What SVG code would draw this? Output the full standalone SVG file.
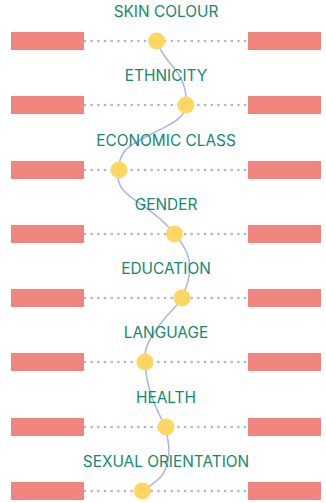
<svg xmlns="http://www.w3.org/2000/svg" width="326" height="503" viewBox="0 0 326 503">
  <style>
    .bar { fill: #f0847f; }
    .dots { stroke: #a4b2e6; stroke-width: 2.6; stroke-linecap: round; stroke-dasharray: 0 6.67; fill: none; }
    .curve { stroke: #a9b5e3; stroke-width: 1.5; fill: none; }
    .dot { fill: #fed660; }
    .label { font-family: Inter, "Liberation Sans", sans-serif; font-size: 15.4px; fill: #15896e; text-anchor: middle; }
  </style>
  <rect width="326" height="503" fill="#ffffff"/>
  <g id="bars">
    <rect class="bar" x="11" y="32" width="73" height="18"/><rect class="bar" x="248" y="32" width="73" height="18"/>
    <rect class="bar" x="11" y="96" width="73" height="18"/><rect class="bar" x="248" y="96" width="73" height="18"/>
    <rect class="bar" x="11" y="161" width="73" height="18"/><rect class="bar" x="248" y="161" width="73" height="18"/>
    <rect class="bar" x="11" y="225" width="73" height="18"/><rect class="bar" x="248" y="225" width="73" height="18"/>
    <rect class="bar" x="11" y="289" width="73" height="18"/><rect class="bar" x="248" y="289" width="73" height="18"/>
    <rect class="bar" x="11" y="353" width="73" height="18"/><rect class="bar" x="248" y="353" width="73" height="18"/>
    <rect class="bar" x="11" y="418" width="73" height="18"/><rect class="bar" x="248" y="418" width="73" height="18"/>
    <rect class="bar" x="11" y="482" width="73" height="18"/><rect class="bar" x="248" y="482" width="73" height="18"/>
  </g>
  <g id="connectors">
    <path class="dots" d="M85,41H248M85,105H248M85,170H248M85,234H248M85,298H248M85,362H248M85,427H248M85,491H248"/>
    <path class="curve" d="M156.7,41 Q160,49.7 164.15,55.5 Q168.3,61.3 173.3,67.15 Q178.3,73 181.15,78.85 Q184,84.7 185,89.7 Q186,94.7 186,99.85 Q186,105 184.65,109.85 Q183.3,114.7 178.3,118.85 Q173.3,123 165,127.15 Q156.7,131.3 148.35,135.5 Q140,139.7 133.35,143.85 Q126.7,148 123.35,153 Q120,158 119.25,163.75 Q118.5,169.5 118,175 Q117.5,180.5 120.4,185.9 Q123.3,191.3 130,196.3 Q136.7,201.3 145,207.15 Q153.3,213 160,218.85 Q166.7,224.7 170.6,229.35 Q174.5,234 178.1,238.5 Q181.7,243 185,248.85 Q188.3,254.7 189.15,261.35 Q190,268 189.15,274.65 Q188.3,281.3 186.65,285.5 Q185,289.7 183.5,293.85 Q182,298 178.5,302.85 Q175,307.7 169.15,313.5 Q163.3,319.3 157.5,327.65 Q151.7,336 148.35,342.65 Q145,349.3 145,355.65 Q145,362 145.5,368.15 Q146,374.3 148,383.5 Q150,392.7 153.35,401 Q156.7,409.3 159.2,414.3 Q161.7,419.3 163.85,423.15 Q166,427 166.65,431.85 Q167.3,436.7 168.3,442.5 Q169.3,448.3 168.8,455 Q168.3,461.7 165.8,468.35 Q163.3,475 157.5,480 Q151.7,485 142.3,491"/>
  </g>
  <g id="skin-colour"><text class="label" x="166" y="17">SKIN COLOUR</text><circle class="dot" cx="156.7" cy="41" r="8.5"/></g>
  <g id="ethnicity"><text class="label" x="166" y="81">ETHNICITY</text><circle class="dot" cx="186" cy="105" r="8.5"/></g>
  <g id="economic-class"><text class="label" x="166" y="145.5">ECONOMIC CLASS</text><circle class="dot" cx="119" cy="170" r="8.5"/></g>
  <g id="gender"><text class="label" x="166" y="209.5">GENDER</text><circle class="dot" cx="174.5" cy="234" r="8.5"/></g>
  <g id="education"><text class="label" x="166" y="274">EDUCATION</text><circle class="dot" cx="182" cy="298" r="8.5"/></g>
  <g id="language"><text class="label" x="166" y="338">LANGUAGE</text><circle class="dot" cx="145" cy="362" r="8.5"/></g>
  <g id="health"><text class="label" x="166" y="403">HEALTH</text><circle class="dot" cx="166" cy="427" r="8.5"/></g>
  <g id="sexual-orientation"><text class="label" x="166" y="467">SEXUAL ORIENTATION</text><circle class="dot" cx="142.3" cy="491" r="8.5"/></g>
</svg>
